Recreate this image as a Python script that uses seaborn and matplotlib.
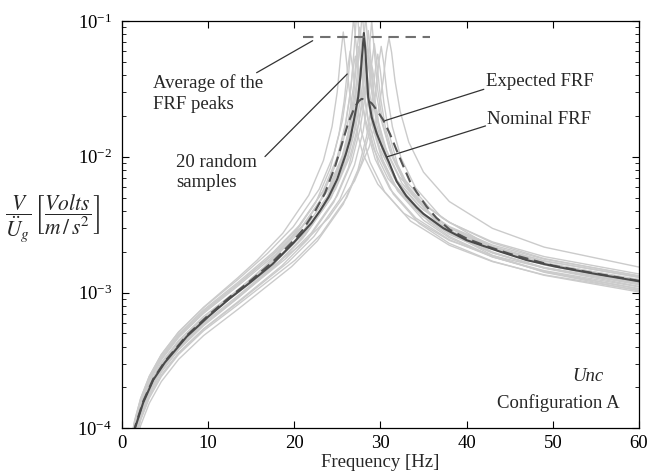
import numpy as np
import pandas as pd
import matplotlib
matplotlib.use('Agg')
import matplotlib.pyplot as plt
import seaborn as sns
from matplotlib.ticker import LogLocator, NullFormatter, NullLocator

# ---------------- data ----------------
freq_nominal = [1.4, 1.54, 2.5, 3.66, 5.0, 7.54, 10.0, 12.56, 15.0, 17.5, 19.9, 22.0, 23.0, 24.0, 25.0,
                26.0, 26.5, 27.0, 27.43, 27.7, 27.9, 28.09, 28.25, 28.4, 28.59, 29.0, 29.57, 30.0, 30.53,
                31.0, 31.88, 33.0, 34.2, 35.0, 37.3, 40.0, 43.9, 47.0, 50.4, 55.0, 60.0]
frf_nominal = [9.1e-5, 1.0e-4, 1.55e-4, 2.27e-4, 3.05e-4, 4.73e-4, 6.6e-4, 9.08e-4, 1.2e-3, 1.62e-3, 2.31e-3,
               3.25e-3, 4.0e-3, 5.05e-3, 6.85e-3, 0.0105, 0.0135, 0.0195, 0.0275, 0.040, 0.058, 0.0816,
               0.062, 0.043, 0.0275, 0.0195, 0.0149, 0.0127, 0.0106, 0.0091, 0.0066, 5.15e-3, 4.25e-3,
               3.8e-3, 2.98e-3, 2.43e-3, 2.0e-3, 1.73e-3, 1.55e-3, 1.37e-3, 1.21e-3]

freq_expected = [1.4, 1.54, 2.5, 3.66, 5.0, 7.54, 10.0, 12.56, 15.0, 17.5, 19.9, 21.0, 22.4, 23.57, 24.73,
                 25.5, 26.27, 27.05, 27.5, 27.83, 28.3, 28.99, 29.6, 30.33, 31.1, 31.88, 32.5, 33.43, 34.2,
                 35.36, 36.5, 38.06, 40.0, 42.3, 45.0, 50.0, 55.0, 60.0]
frf_expected = [9.2e-5, 1.02e-4, 1.58e-4, 2.31e-4, 3.1e-4, 4.82e-4, 6.75e-4, 9.3e-4, 1.23e-3, 1.68e-3, 2.4e-3,
                2.9e-3, 3.95e-3, 5.38e-3, 8.4e-3, 0.0122, 0.0177, 0.0234, 0.0257, 0.0267, 0.0264, 0.0248,
                0.0220, 0.0187, 0.0148, 0.0112, 9.0e-3, 6.6e-3, 5.5e-3, 4.3e-3, 3.55e-3, 2.9e-3, 2.5e-3,
                2.2e-3, 1.93e-3, 1.58e-3, 1.38e-3, 1.22e-3]

avg_peak_value = [0.0767, 0.0767]
avg_peak_freq = [21.0, 35.75]

# 20 random samples (grey curves)
sample_freq = [
    [1.0, 1.5, 2.2, 3.2, 4.6, 6.6, 9.5, 13.5, 15.7, 18.7, 21.7, 23.4, 24.4, 25.0, 25.4, 25.7, 26.0, 26.4, 27.0, 28.0, 29.7, 32.7, 38.0, 43.0, 49.0, 60.0],
    [1.0, 1.5, 2.2, 3.2, 4.6, 6.6, 9.5, 13.5, 16.5, 19.5, 22.5, 24.2, 25.2, 25.8, 26.2, 26.5, 26.8, 27.2, 27.8, 28.8, 30.5, 33.5, 38.0, 43.0, 49.0, 60.0],
    [1.0, 1.5, 2.2, 3.2, 4.6, 6.6, 9.5, 13.5, 16.9, 19.9, 22.9, 24.6, 25.6, 26.2, 26.6, 26.9, 27.2, 27.6, 28.2, 29.2, 30.9, 33.9, 38.0, 43.0, 49.0, 60.0],
    [1.0, 1.5, 2.2, 3.2, 4.6, 6.6, 9.5, 13.5, 17.1, 20.1, 23.1, 24.8, 25.8, 26.4, 26.8, 27.1, 27.4, 27.8, 28.4, 29.4, 31.1, 34.1, 38.0, 43.0, 49.0, 60.0],
    [1.0, 1.5, 2.2, 3.2, 4.6, 6.6, 9.5, 13.5, 17.3, 20.3, 23.3, 25.0, 26.0, 26.6, 27.0, 27.3, 27.6, 28.0, 28.6, 29.6, 31.3, 34.3, 38.0, 43.0, 49.0, 60.0],
    [1.0, 1.5, 2.2, 3.2, 4.6, 6.6, 9.5, 13.5, 17.5, 20.5, 23.5, 25.2, 26.2, 26.8, 27.2, 27.5, 27.8, 28.2, 28.8, 29.8, 31.5, 34.5, 38.0, 43.0, 49.0, 60.0],
    [1.0, 1.5, 2.2, 3.2, 4.6, 6.6, 9.5, 13.5, 17.6, 20.6, 23.6, 25.3, 26.3, 26.9, 27.3, 27.6, 27.9, 28.3, 28.9, 29.9, 31.6, 34.6, 38.0, 43.0, 49.0, 60.0],
    [1.0, 1.5, 2.2, 3.2, 4.6, 6.6, 9.5, 13.5, 17.8, 20.8, 23.8, 25.5, 26.5, 27.1, 27.5, 27.8, 28.1, 28.5, 29.1, 30.1, 31.8, 34.8, 38.0, 43.0, 49.0, 60.0],
    [1.0, 1.5, 2.2, 3.2, 4.6, 6.6, 9.5, 13.5, 17.9, 20.9, 23.9, 25.6, 26.6, 27.2, 27.6, 27.9, 28.2, 28.6, 29.2, 30.2, 31.9, 34.9, 38.0, 43.0, 49.0, 60.0],
    [1.0, 1.5, 2.2, 3.2, 4.6, 6.6, 9.5, 13.5, 18.0, 21.0, 24.0, 25.7, 26.7, 27.3, 27.7, 28.0, 28.3, 28.7, 29.3, 30.3, 32.0, 35.0, 38.0, 43.0, 49.0, 60.0],
    [1.0, 1.5, 2.2, 3.2, 4.6, 6.6, 9.5, 13.5, 18.2, 21.2, 24.2, 25.9, 26.9, 27.5, 27.9, 28.2, 28.5, 28.9, 29.5, 30.5, 32.2, 35.2, 38.0, 43.0, 49.0, 60.0],
    [1.0, 1.5, 2.2, 3.2, 4.6, 6.6, 9.5, 13.5, 18.3, 21.3, 24.3, 26.0, 27.0, 27.6, 28.0, 28.3, 28.6, 29.0, 29.6, 30.6, 32.3, 35.3, 38.0, 43.0, 49.0, 60.0],
    [1.0, 1.5, 2.2, 3.2, 4.6, 6.6, 9.5, 13.5, 18.5, 21.5, 24.5, 26.2, 27.2, 27.8, 28.2, 28.5, 28.8, 29.2, 29.8, 30.8, 32.5, 35.5, 38.0, 43.0, 49.0, 60.0],
    [1.0, 1.5, 2.2, 3.2, 4.6, 6.6, 9.5, 13.5, 18.6, 21.6, 24.6, 26.3, 27.3, 27.9, 28.3, 28.6, 28.9, 29.3, 29.9, 30.9, 32.6, 35.6, 38.0, 43.0, 49.0, 60.0],
    [1.0, 1.5, 2.2, 3.2, 4.6, 6.6, 9.5, 13.5, 18.8, 21.8, 24.8, 26.5, 27.5, 28.1, 28.5, 28.8, 29.1, 29.5, 30.1, 31.1, 32.8, 35.8, 38.0, 43.0, 49.0, 60.0],
    [1.0, 1.5, 2.2, 3.2, 4.6, 6.6, 9.5, 13.5, 19.0, 22.0, 25.0, 26.7, 27.7, 28.3, 28.7, 29.0, 29.3, 29.7, 30.3, 31.3, 33.0, 36.0, 38.0, 43.0, 49.0, 60.0],
    [1.0, 1.5, 2.2, 3.2, 4.6, 6.6, 9.5, 13.5, 19.3, 22.3, 25.3, 27.0, 28.0, 28.6, 29.0, 29.3, 29.6, 30.0, 30.6, 31.6, 33.3, 36.3, 38.0, 43.0, 49.0, 60.0],
    [1.0, 1.5, 2.2, 3.2, 4.6, 6.6, 9.5, 13.5, 19.7, 22.7, 25.7, 27.4, 28.4, 29.0, 29.4, 29.7, 30.0, 30.4, 31.0, 32.0, 33.7, 36.7, 38.0, 43.0, 49.0, 60.0],
    [1.0, 1.5, 2.2, 3.2, 4.6, 6.6, 9.5, 13.5, 20.1, 23.1, 26.1, 27.8, 28.8, 29.4, 29.8, 30.1, 30.4, 30.8, 31.4, 32.4, 34.1, 37.1, 43.0, 49.0, 60.0],
    [1.0, 1.5, 2.2, 3.2, 4.6, 6.6, 9.5, 13.5, 21.0, 24.0, 27.0, 28.7, 29.7, 30.3, 30.7, 31.0, 31.3, 31.7, 32.3, 33.3, 35.0, 38.0, 43.0, 49.0, 60.0],
]
sample_frf = [
    [7.55e-5, 1.13e-4, 1.66e-4, 2.41e-4, 3.49e-4, 5.12e-4, 7.79e-4, 1.29e-3, 1.73e-3, 2.74e-3, 5.21e-3, 9.39e-3, 1.67e-2,
     3.00e-2, 5.59e-2, 8.30e-2, 5.64e-2, 3.08e-2, 1.77e-2, 1.04e-2, 6.28e-3, 3.84e-3, 2.42e-3, 1.87e-3, 1.52e-3, 1.18e-3],
    [6.25e-5, 9.36e-5, 1.37e-4, 2.00e-4, 2.89e-4, 4.22e-4, 6.40e-4, 1.04e-3, 1.54e-3, 2.43e-3, 4.59e-3, 8.25e-3, 1.46e-2,
     2.56e-2, 4.45e-2, 6.00e-2, 4.49e-2, 2.63e-2, 1.54e-2, 9.14e-3, 5.51e-3, 3.36e-3, 2.23e-3, 1.69e-3, 1.35e-3, 1.04e-3],
    [7.58e-5, 1.14e-4, 1.66e-4, 2.42e-4, 3.50e-4, 5.12e-4, 7.74e-4, 1.25e-3, 1.94e-3, 3.05e-3, 5.76e-3, 1.04e-2, 1.85e-2,
     3.35e-2, 6.52e-2, 1.05e-1, 6.58e-2, 3.45e-2, 1.96e-2, 1.15e-2, 6.89e-3, 4.20e-3, 2.86e-3, 2.15e-3, 1.71e-3, 1.30e-3],
    [6.32e-5, 9.46e-5, 1.39e-4, 2.02e-4, 2.92e-4, 4.26e-4, 6.44e-4, 1.04e-3, 1.64e-3, 2.58e-3, 4.86e-3, 8.70e-3, 1.53e-2,
     2.63e-2, 4.33e-2, 5.50e-2, 4.36e-2, 2.69e-2, 1.61e-2, 9.61e-3, 5.80e-3, 3.54e-3, 2.45e-3, 1.83e-3, 1.45e-3, 1.10e-3],
    [7.03e-5, 1.05e-4, 1.54e-4, 2.24e-4, 3.24e-4, 4.74e-4, 7.16e-4, 1.15e-3, 1.86e-3, 2.92e-3, 5.51e-3, 9.92e-3, 1.78e-2,
     3.26e-2, 6.70e-2, 1.25e-1, 6.77e-2, 3.35e-2, 1.88e-2, 1.10e-2, 6.57e-3, 4.00e-3, 2.81e-3, 2.08e-3, 1.64e-3, 1.25e-3],
    [5.61e-5, 8.40e-5, 1.23e-4, 1.79e-4, 2.59e-4, 3.78e-4, 5.70e-4, 9.13e-4, 1.51e-3, 2.36e-3, 4.45e-3, 8.00e-3, 1.42e-2,
     2.52e-2, 4.57e-2, 6.50e-2, 4.60e-2, 2.59e-2, 1.50e-2, 8.83e-3, 5.31e-3, 3.23e-3, 2.30e-3, 1.70e-3, 1.34e-3, 1.01e-3],
    [7.34e-5, 1.10e-4, 1.61e-4, 2.34e-4, 3.38e-4, 4.94e-4, 7.45e-4, 1.19e-3, 1.99e-3, 3.12e-3, 5.87e-3, 1.05e-2, 1.87e-2,
     3.34e-2, 6.17e-2, 9.00e-2, 6.22e-2, 3.43e-2, 1.98e-2, 1.16e-2, 6.99e-3, 4.26e-3, 3.06e-3, 2.24e-3, 1.76e-3, 1.33e-3],
    [6.26e-5, 9.38e-5, 1.37e-4, 2.00e-4, 2.89e-4, 4.21e-4, 6.35e-4, 1.01e-3, 1.73e-3, 2.70e-3, 5.07e-3, 9.05e-3, 1.58e-2,
     2.65e-2, 4.13e-2, 5.00e-2, 4.15e-2, 2.71e-2, 1.66e-2, 9.97e-3, 6.03e-3, 3.68e-3, 2.68e-3, 1.96e-3, 1.53e-3, 1.16e-3],
    [6.92e-5, 1.04e-4, 1.52e-4, 2.21e-4, 3.19e-4, 4.66e-4, 7.02e-4, 1.12e-3, 1.92e-3, 3.01e-3, 5.67e-3, 1.02e-2, 1.83e-2,
     3.32e-2, 6.66e-2, 1.15e-1, 6.72e-2, 3.42e-2, 1.93e-2, 1.13e-2, 6.75e-3, 4.10e-3, 3.01e-3, 2.19e-3, 1.71e-3, 1.29e-3],
    [5.73e-5, 8.58e-5, 1.26e-4, 1.83e-4, 2.64e-4, 3.85e-4, 5.80e-4, 9.24e-4, 1.61e-3, 2.51e-3, 4.72e-3, 8.45e-3, 1.49e-2,
     2.59e-2, 4.41e-2, 5.80e-2, 4.44e-2, 2.66e-2, 1.57e-2, 9.31e-3, 5.60e-3, 3.41e-3, 2.53e-3, 1.83e-3, 1.43e-3, 1.07e-3],
    [7.22e-5, 1.08e-4, 1.58e-4, 2.30e-4, 3.33e-4, 4.85e-4, 7.30e-4, 1.16e-3, 2.06e-3, 3.21e-3, 6.03e-3, 1.08e-2, 1.90e-2,
     3.27e-2, 5.45e-2, 7.00e-2, 5.49e-2, 3.35e-2, 2.00e-2, 1.19e-2, 7.15e-3, 4.36e-3, 3.28e-3, 2.36e-3, 1.84e-3, 1.37e-3],
    [5.92e-5, 8.86e-5, 1.30e-4, 1.89e-4, 2.73e-4, 3.98e-4, 5.98e-4, 9.50e-4, 1.70e-3, 2.66e-3, 5.00e-3, 8.99e-3, 1.61e-2,
     2.94e-2, 6.01e-2, 1.10e-1, 6.07e-2, 3.03e-2, 1.70e-2, 9.91e-3, 5.93e-3, 3.60e-3, 2.73e-3, 1.96e-3, 1.52e-3, 1.14e-3],
    [6.33e-5, 9.48e-5, 1.39e-4, 2.02e-4, 2.92e-4, 4.25e-4, 6.39e-4, 1.01e-3, 1.85e-3, 2.88e-3, 5.41e-3, 9.66e-3, 1.70e-2,
     2.92e-2, 4.85e-2, 6.20e-2, 4.88e-2, 2.99e-2, 1.79e-2, 1.06e-2, 6.40e-3, 3.90e-3, 3.01e-3, 2.15e-3, 1.66e-3, 1.23e-3],
    [5.37e-5, 8.04e-5, 1.18e-4, 1.71e-4, 2.47e-4, 3.60e-4, 5.41e-4, 8.57e-4, 1.58e-3, 2.47e-3, 4.63e-3, 8.32e-3, 1.48e-2,
     2.69e-2, 5.24e-2, 8.50e-2, 5.28e-2, 2.76e-2, 1.57e-2, 9.15e-3, 5.48e-3, 3.33e-3, 2.59e-3, 1.84e-3, 1.42e-3, 1.06e-3],
    [6.62e-5, 9.91e-5, 1.45e-4, 2.11e-4, 3.05e-4, 4.44e-4, 6.67e-4, 1.05e-3, 1.98e-3, 3.08e-3, 5.77e-3, 1.02e-2, 1.77e-2,
     2.93e-2, 4.41e-2, 5.20e-2, 4.43e-2, 2.99e-2, 1.86e-2, 1.12e-2, 6.81e-3, 4.15e-3, 3.29e-3, 2.32e-3, 1.78e-3, 1.32e-3],
    [5.82e-5, 8.71e-5, 1.28e-4, 1.86e-4, 2.68e-4, 3.90e-4, 5.85e-4, 9.22e-4, 1.77e-3, 2.75e-3, 5.17e-3, 9.27e-3, 1.66e-2,
     3.01e-2, 5.95e-2, 1.00e-1, 6.01e-2, 3.09e-2, 1.75e-2, 1.02e-2, 6.10e-3, 3.70e-3, 2.99e-3, 2.09e-3, 1.60e-3, 1.18e-3],
    [5.35e-5, 8.01e-5, 1.17e-4, 1.71e-4, 2.46e-4, 3.58e-4, 5.37e-4, 8.44e-4, 1.67e-3, 2.59e-3, 4.85e-3, 8.68e-3, 1.54e-2,
     2.71e-2, 4.86e-2, 6.80e-2, 4.90e-2, 2.78e-2, 1.62e-2, 9.52e-3, 5.71e-3, 3.47e-3, 2.88e-3, 1.99e-3, 1.51e-3, 1.11e-3],
    [4.81e-5, 7.20e-5, 1.05e-4, 1.53e-4, 2.21e-4, 3.22e-4, 4.82e-4, 7.54e-4, 1.55e-3, 2.40e-3, 4.48e-3, 8.01e-3, 1.41e-2,
     2.47e-2, 4.26e-2, 5.70e-2, 4.29e-2, 2.53e-2, 1.48e-2, 8.77e-3, 5.27e-3, 3.20e-3, 2.76e-3, 1.88e-3, 1.41e-3, 1.03e-3],
    [5.23e-5, 7.84e-5, 1.15e-4, 1.67e-4, 2.41e-4, 3.50e-4, 5.23e-4, 8.16e-4, 1.73e-3, 2.68e-3, 5.01e-3, 8.96e-3, 1.58e-2,
     2.77e-2, 4.82e-2, 6.50e-2, 4.85e-2, 2.83e-2, 1.66e-2, 9.80e-3, 5.88e-3, 3.57e-3, 2.14e-3, 1.60e-3, 1.16e-3],
    [6.49e-5, 9.72e-5, 1.42e-4, 2.07e-4, 2.99e-4, 4.34e-4, 6.46e-4, 1.00e-3, 2.30e-3, 3.55e-3, 6.61e-3, 1.18e-2, 2.06e-2,
     3.55e-2, 5.88e-2, 7.50e-2, 5.91e-2, 3.63e-2, 2.16e-2, 1.28e-2, 7.71e-3, 4.68e-3, 2.97e-3, 2.16e-3, 1.54e-3],
]

# ---------------- styling ----------------
sns.set_theme(style='ticks')
plt.rcParams['font.family'] = ['Liberation Serif', 'DejaVu Serif']
plt.rcParams['mathtext.fontset'] = 'stix'
plt.rcParams['axes.linewidth'] = 0.9

fig = plt.figure(figsize=(6.49, 4.75), dpi=100)
ax = fig.add_axes([0.1875, 0.0983, 0.7971, 0.8575])
ax.set_yscale('log')

rows = []
for i, (xs, ys) in enumerate(zip(sample_freq, sample_frf)):
    for x, y in zip(xs, ys):
        rows.append((i, x, y))
df = pd.DataFrame(rows, columns=['sample', 'freq', 'frf'])
sns.lineplot(data=df, x='freq', y='frf', units='sample', estimator=None, sort=False,
             color='#cbcbcb', lw=1.0, ax=ax, legend=False)
sns.lineplot(x=freq_expected, y=frf_expected, estimator=None, sort=False, color='#555555', lw=1.5,
             linestyle=(0, (5, 2.8)), ax=ax)
sns.lineplot(x=freq_nominal, y=frf_nominal, estimator=None, sort=False, color='#4a4a4a', lw=1.5, ax=ax)
sns.lineplot(x=avg_peak_freq, y=avg_peak_value, estimator=None, sort=False,
             color='#707070', lw=1.5, linestyle=(0, (5, 3.2)), ax=ax)

ax.set_xlim(0, 60)
ax.set_ylim(1e-4, 1e-1)
ax.set_xticks([0, 10, 20, 30, 40, 50, 60])
ax.xaxis.set_minor_locator(NullLocator())
ax.yaxis.set_major_locator(LogLocator(base=10))
ax.yaxis.set_minor_locator(LogLocator(base=10, subs=np.arange(2, 10)))
ax.yaxis.set_minor_formatter(NullFormatter())
ax.tick_params(which='both', direction='in', top=True, right=True, colors='black')
ax.tick_params(which='major', length=5, width=0.8, labelsize=13.5)
ax.tick_params(axis='y', which='major', pad=7)
ax.tick_params(axis='x', which='major', pad=5)
ax.tick_params(which='minor', length=3, width=0.6)
for s in ax.spines.values():
    s.set_color('black')
ax.set_xlabel('Frequency [Hz]', fontsize=13.5, labelpad=1)
ax.set_ylabel('')
ax.text(-0.133, 0.515, r'$\dfrac{V}{\ddot{U}_g}\,\left[\dfrac{Volts}{m\,/\,s^2}\right]$', transform=ax.transAxes,
        ha='center', va='center', fontsize=15.5)

lc = '#333333'
kw = dict(arrowstyle='-', color=lc, lw=0.9, shrinkA=0, shrinkB=0)
ax.annotate('', xy=(22.15, 0.0716), xytext=(15.65, 0.0416), arrowprops=kw)
ax.annotate('', xy=(26.16, 0.0407), xytext=(16.62, 0.01003), arrowprops=kw)
ax.annotate('', xy=(30.53, 0.01845), xytext=(42.0, 0.0314), arrowprops=kw)
ax.annotate('', xy=(30.8, 0.0100), xytext=(42.2, 0.01687), arrowprops=kw)

fs = 13.5
ax.text(3.66, 0.0294, 'Average of the\nFRF peaks', ha='left', va='center', fontsize=fs, linespacing=1.3)
ax.text(6.3, 7.66e-3, '20 random\nsamples', ha='left', va='center', fontsize=fs, linespacing=1.3)
ax.text(42.2, 0.0356, 'Expected FRF', ha='left', va='center', fontsize=fs)
ax.text(42.4, 0.01866, 'Nominal FRF', ha='left', va='center', fontsize=fs)
ax.text(55.85, 2.40e-4, 'Unc', ha='right', va='center', fontsize=fs, style='italic')
ax.text(57.8, 1.545e-4, 'Configuration A', ha='right', va='center', fontsize=fs)

fig.savefig('out.png', dpi=100)
